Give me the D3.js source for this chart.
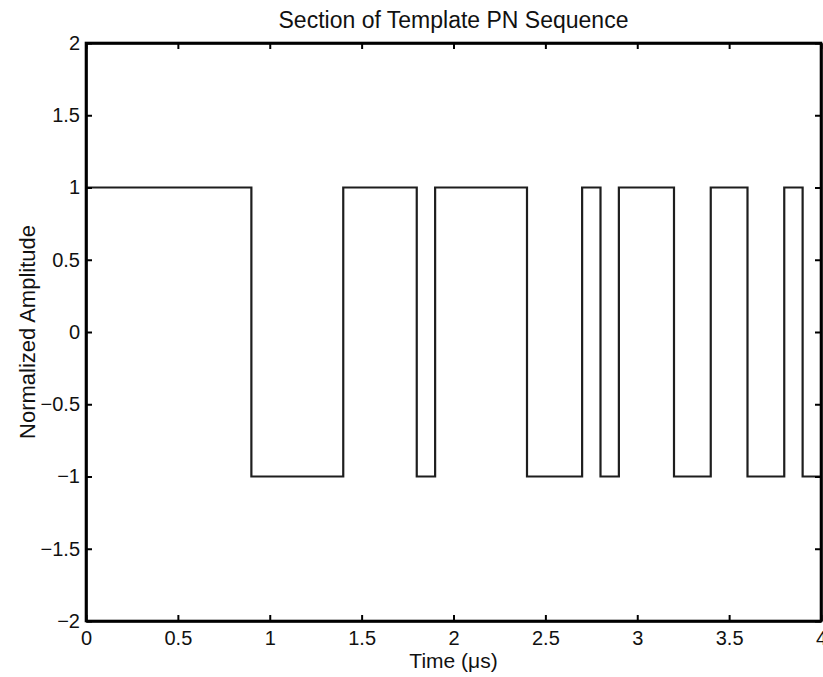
<!DOCTYPE html>
<html>
<head>
<meta charset="utf-8">
<script src="https://cdn.jsdelivr.net/npm/d3@7"></script>
<style>
  html, body { margin: 0; padding: 0; background: #fff; }
  svg { display: block; }
  text { font-family: Arial, "Liberation Sans", Helvetica, sans-serif; fill: #111; }
</style>
</head>
<body>
<svg id="chart" width="823" height="677"></svg>
<script>
// Data: chip transition times (µs) and level of each chip segment
const edges = [0, 0.9, 1.4, 1.8, 1.9, 2.4, 2.7, 2.8, 2.9, 3.2, 3.4, 3.6, 3.8, 3.9, 4.0];
const levels = [1, -1, 1, -1, 1, -1, 1, -1, 1, -1, 1, -1, 1, -1];
const xTicks = [0, 0.5, 1, 1.5, 2, 2.5, 3, 3.5, 4];
const yTicks = [-2, -1.5, -1, -0.5, 0, 0.5, 1, 1.5, 2];
const xTickLabels = ["0", "0.5", "1", "1.5", "2", "2.5", "3", "3.5", "4"];
const yTickLabels = ["\u22122", "\u22121.5", "\u22121", "\u22120.5", "0", "0.5", "1", "1.5", "2"];
const title = "Section of Template PN Sequence";
const xLabel = "Time (\u03bcs)";
const yLabel = "Normalized Amplitude";

const svg = d3.select("#chart");
const L = 86, R = 821, T = 43, B = 621;

const x = d3.scaleLinear().domain([0, 4]).range([L, R]);
const y = d3.scaleLinear().domain([-2, 2]).range([B, T]);

// Build step points from data
const pts = [];
levels.forEach((lv, i) => {
  pts.push([edges[i], lv]);
  pts.push([edges[i + 1], lv]);
});

const line = d3.line().x(d => x(d[0])).y(d => y(d[1]));

svg.append("path")
  .datum(pts)
  .attr("d", line)
  .attr("fill", "none")
  .attr("stroke", "#1e1e1e")
  .attr("stroke-width", 2.2)
  .attr("stroke-linejoin", "miter");

const tickLen = 6;
const axisBottom = d3.axisBottom(x).tickValues(xTicks).tickSizeInner(-tickLen).tickSizeOuter(0)
  .tickFormat((d, i) => xTickLabels[i]).tickPadding(10);
const axisTop = d3.axisTop(x).tickValues(xTicks).tickSizeInner(-tickLen).tickSizeOuter(0).tickFormat("");
const axisLeft = d3.axisLeft(y).tickValues(yTicks).tickSizeInner(-tickLen).tickSizeOuter(0)
  .tickFormat((d, i) => yTickLabels[i]).tickPadding(6);
const axisRight = d3.axisRight(y).tickValues(yTicks).tickSizeInner(-tickLen).tickSizeOuter(0).tickFormat("");

function style(g) {
  g.selectAll("path.domain").attr("stroke", "#000").attr("stroke-width", 2.6);
  g.selectAll(".tick line").attr("stroke", "#000").attr("stroke-width", 2);
  g.selectAll(".tick text").attr("font-size", 20).attr("fill", "#222")
    .style("font-family", "Arial, 'Liberation Sans', Helvetica, sans-serif");
}

svg.append("g").attr("transform", `translate(0,${B})`).call(axisBottom).call(style)
  .selectAll(".tick text").attr("dy", "0.71em");
svg.append("g").attr("transform", `translate(0,${T})`).call(axisTop).call(style);
svg.append("g").attr("transform", `translate(${L},0)`).call(axisLeft).call(style);
svg.append("g").attr("transform", `translate(${R},0)`).call(axisRight).call(style);

svg.append("rect").attr("x", L).attr("y", T).attr("width", R - L).attr("height", B - T)
  .attr("fill", "none").attr("stroke", "#000").attr("stroke-width", 2.6);

svg.append("text").attr("x", (L + R) / 2).attr("y", 28).attr("text-anchor", "middle")
  .attr("font-size", 23).text(title);
svg.append("text").attr("x", (L + R) / 2).attr("y", 668).attr("text-anchor", "middle")
  .attr("font-size", 21).text(xLabel);
svg.append("text").attr("transform", `translate(35,${(T + B) / 2}) rotate(-90)`)
  .attr("text-anchor", "middle").attr("font-size", 22).text(yLabel);
</script>
</body>
</html>
